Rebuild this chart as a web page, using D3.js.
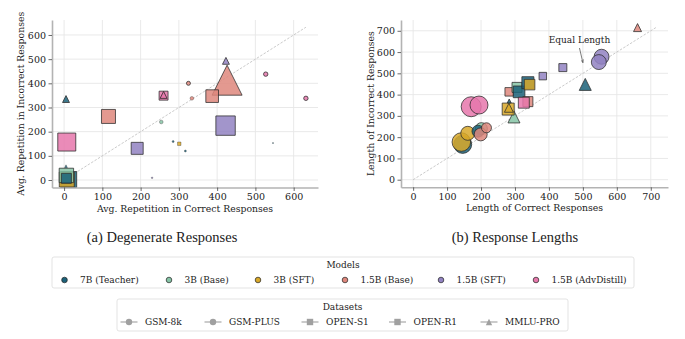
<!DOCTYPE html>
<html>
<head>
<meta charset="utf-8">
<script src="https://cdn.jsdelivr.net/npm/d3@7"></script>
<style>
  body { margin: 0; background: #fff; }
  svg { display: block; }
  .tick text { font-family: 'DejaVu Serif', serif; font-size: 9.5px; fill: #222; }
  .axis-title { font-family: 'DejaVu Serif', serif; font-size: 9.3px; fill: #222; }
  .caption { font-family: 'Liberation Serif', 'Times New Roman', serif; font-size: 14.5px; fill: #222; }
  .legend-text { font-family: 'DejaVu Serif', serif; font-size: 9px; fill: #222; }
</style>
</head>
<body>
<script>
// models and datasets
const modelNames = ['7B (Teacher)', '3B (Base)', '3B (SFT)', '1.5B (Base)', '1.5B (SFT)', '1.5B (AdvDistill)']
const modelColors = ['#1b6179', '#86c4a6', '#d8a829', '#de877c', '#9283c2', '#e677ab']
const datasetNames = ['GSM-8k', 'GSM-PLUS', 'OPEN-S1', 'OPEN-R1', 'MMLU-PRO']
const datasetShapes = ['circle', 'circle', 'square', 'square', 'triangle']

// (a) degenerate responses: avg. repetition
const repModel     = [0, 2, 1, 0, 3, 4, 5, 5, 3, 4, 4, 3, 5, 5, 0, 3, 3, 5, 5, 1, 0, 2, 0, 4, 0, 0]
const repDataset   = [2, 3, 2, 3, 4, 2, 2, 4, 3, 3, 4, 2, 3, 4, 4, 0, 1, 0, 1, 0, 1, 2, 0, 1, 4, 0]
const repCorrect   = [12, 7, 6, 6, 426, 422, 7, 260, 116, 191, 423, 387, 260, 260, 5, 325, 334, 527, 632, 254, 285, 301, 317, 230, 5, 546]
const repIncorrect = [2, 2, 19, 7, 413, 225, 157, 352, 263, 131, 493, 347, 349, 352, 335, 400, 338, 438, 338, 240, 159, 150, 120, 9, 57, 153]
const repWeight    = [64, 56, 52, 25, 225, 94, 81, 12, 49, 36, 12, 40, 20, 12, 12, 4, 3.3, 4.8, 4.8, 3.3, 1, 3, 1, 0.6, 2, 0.3]

// (b) response lengths
const lenModel     = [0, 2, 2, 1, 0, 3, 5, 5, 3, 1, 3, 1, 0, 2, 0, 2, 3, 5, 2, 0, 4, 4, 4, 4, 0, 3]
const lenDataset   = [0, 0, 1, 1, 0, 0, 0, 1, 1, 4, 3, 3, 2, 2, 3, 3, 2, 3, 4, 4, 0, 1, 2, 3, 4, 4]
const lenCorrect   = [146, 142, 161, 201, 191, 199, 171, 194, 216, 297, 283, 306, 312, 280, 338, 343, 338, 326, 282, 283, 555, 547, 441, 382, 507, 661]
const lenIncorrect = [166, 177, 218, 240, 228, 213, 343, 351, 244, 295, 413, 434, 413, 332, 456, 447, 367, 362, 338, 370, 578, 553, 527, 487, 448, 715]
const lenWeight    = [81, 86, 49, 36, 36, 42, 100, 81, 25, 36, 18, 25, 34, 36, 36, 28, 25, 30, 20, 4, 56, 56, 16, 14, 36, 16]

const xTicksA = [0, 100, 200, 300, 400, 500, 600]
const yTicksA = [0, 100, 200, 300, 400, 500, 600]
const ticksB = [0, 100, 200, 300, 400, 500, 600, 700]

const svg = d3.select('body').append('svg')
  .attr('width', 685)
  .attr('height', 339)

const sizeScale = d3.scaleSqrt().domain([0, 400]).range([0, 20])

function shapePath(shape, h) {
  if (shape === 'square') return `M${-h},${-h}H${h}V${h}H${-h}Z`
  if (shape === 'triangle') return `M0,${-h}L${h},${h}L${-h},${h}Z`
  return `M${h},0A${h},${h} 0 1,1 ${-h},0A${h},${h} 0 1,1 ${h},0Z`
}

function drawPanel(cfg) {
  const x = d3.scaleLinear().domain(cfg.xDomain).range([cfg.left, cfg.right])
  const y = d3.scaleLinear().domain(cfg.yDomain).range([cfg.bottom, cfg.top])
  const g = svg.append('g')

  // grid
  g.selectAll('.gx').data(cfg.xTicks).enter().append('line')
    .attr('x1', d => x(d)).attr('x2', d => x(d))
    .attr('y1', cfg.top).attr('y2', cfg.bottom)
    .attr('stroke', '#e6e6e6').attr('stroke-width', 0.9)
  g.selectAll('.gy').data(cfg.yTicks).enter().append('line')
    .attr('x1', cfg.left).attr('x2', cfg.right)
    .attr('y1', d => y(d)).attr('y2', d => y(d))
    .attr('stroke', '#e6e6e6').attr('stroke-width', 0.9)

  // equal line
  g.append('line')
    .attr('x1', x(0)).attr('y1', y(0))
    .attr('x2', x(cfg.diagMax)).attr('y2', y(cfg.diagMax))
    .attr('stroke', '#bdbdbd').attr('stroke-width', 0.8)
    .attr('stroke-dasharray', '2.5,1.5')

  // points
  const pts = cfg.xs.map((v, i) => ({
    x: v, y: cfg.ys[i], m: cfg.models[i], d: cfg.datasets[i], w: cfg.weights[i]
  }))
  g.selectAll('.pt').data(pts).enter().append('path')
    .attr('transform', d => 'translate(' + x(d.x) + ',' + y(d.y) + ')')
    .attr('d', d => shapePath(datasetShapes[d.d], sizeScale(d.w)))
    .attr('fill', d => modelColors[d.m])
    .attr('fill-opacity', 0.85)
    .attr('stroke', '#2b2b2b')
    .attr('stroke-width', d => sizeScale(d.w) < 2 ? 0.4 : 0.9)
    .attr('stroke-opacity', 0.85)

  // axes
  const xAxis = g.append('g')
    .attr('transform', 'translate(0,' + cfg.bottom + ')')
    .call(d3.axisBottom(x).tickValues(cfg.xTicks).tickSize(3.5).tickSizeOuter(0).tickPadding(2.5))
  const yAxis = g.append('g')
    .attr('transform', 'translate(' + cfg.left + ',0)')
    .call(d3.axisLeft(y).tickValues(cfg.yTicks).tickSize(3.5).tickSizeOuter(0).tickPadding(2.5))
  ;[xAxis, yAxis].forEach(a => {
    a.select('.domain').attr('stroke', '#b3b3b3').attr('stroke-width', 1.6)
    a.selectAll('.tick line').attr('stroke', '#444').attr('stroke-width', 0.8)
  })

  g.append('text').attr('class', 'axis-title')
    .attr('x', (cfg.left + cfg.right) / 2).attr('y', cfg.bottom + 24)
    .attr('text-anchor', 'middle')
    .text(cfg.xLabel)
  g.append('text').attr('class', 'axis-title')
    .attr('transform', 'translate(' + cfg.yLabelX + ',' + (cfg.top + cfg.bottom) / 2 + ') rotate(-90)')
    .attr('text-anchor', 'middle')
    .attr('dominant-baseline', 'middle')
    .text(cfg.yLabel)
  g.append('text').attr('class', 'caption')
    .attr('x', cfg.captionX).attr('y', 242)
    .attr('text-anchor', 'middle')
    .text(cfg.caption)
  return { x, y, g }
}

drawPanel({
  left: 52, right: 318, top: 20, bottom: 187.5,
  xDomain: [-31.6, 663.6], yDomain: [-31, 662],
  xTicks: xTicksA, yTicks: yTicksA, diagMax: 632,
  xs: repCorrect, ys: repIncorrect, models: repModel, datasets: repDataset, weights: repWeight,
  xLabel: 'Avg. Repetition in Correct Responses',
  yLabel: 'Avg. Repetition in Incorrect Responses', yLabelX: 21,
  caption: '(a) Degenerate Responses', captionX: 162
})

const panelB = drawPanel({
  left: 401, right: 668, top: 20, bottom: 187.3,
  xDomain: [-35.75, 750.75], yDomain: [-35.75, 750.75],
  xTicks: ticksB, yTicks: ticksB, diagMax: 715,
  xs: lenCorrect, ys: lenIncorrect, models: lenModel, datasets: lenDataset, weights: lenWeight,
  xLabel: 'Length of Correct Responses',
  yLabel: 'Length of Incorrect Responses', yLabelX: 371,
  caption: '(b) Response Lengths', captionX: 515
})

// annotation
svg.append('defs').append('marker')
  .attr('id', 'arrow').attr('viewBox', '0 0 10 10')
  .attr('refX', 9).attr('refY', 5)
  .attr('markerWidth', 5).attr('markerHeight', 5)
  .attr('orient', 'auto')
  .append('path').attr('d', 'M0,1L9,5L0,9').attr('fill', 'none')
  .attr('stroke', '#444').attr('stroke-width', 1.4)
svg.append('text').attr('class', 'legend-text')
  .attr('x', panelB.x(490)).attr('y', 43)
  .attr('text-anchor', 'middle')
  .text('Equal Length')
svg.append('line')
  .attr('x1', panelB.x(490)).attr('y1', 48)
  .attr('x2', panelB.x(500)).attr('y2', panelB.y(550))
  .attr('stroke', '#444').attr('stroke-width', 0.7)
  .attr('marker-end', 'url(#arrow)')

// legends
function legendBox(x0, x1, y0, y1, title) {
  svg.append('rect')
    .attr('x', x0).attr('y', y0).attr('width', x1 - x0).attr('height', y1 - y0)
    .attr('rx', 2).attr('fill', '#fff').attr('stroke', '#dcdcdc').attr('stroke-width', 0.8)
  svg.append('text').attr('class', 'legend-text')
    .attr('x', (x0 + x1) / 2).attr('y', y0 + 11)
    .attr('text-anchor', 'middle')
    .text(title)
}

legendBox(52, 634, 257, 288, 'Models')
const modelX = [64.5, 169, 258, 345, 441, 536]
const modelItems = svg.selectAll('.model-item').data(modelNames).enter().append('g')
  .attr('transform', (d, i) => 'translate(' + modelX[i] + ',280)')
modelItems.append('circle').attr('r', 2.8)
  .attr('fill', (d, i) => modelColors[i]).attr('stroke', '#222').attr('stroke-width', 0.7)
modelItems.append('text').attr('class', 'legend-text')
  .attr('x', 15.5).attr('y', 3.2).text(d => d)

legendBox(117, 568, 299, 331, 'Datasets')
const datasetX = [129, 213, 310, 397.5, 489]
const dataItems = svg.selectAll('.data-item').data(datasetNames).enter().append('g')
  .attr('transform', (d, i) => 'translate(' + datasetX[i] + ',322)')
dataItems.append('line').attr('x1', -8.5).attr('x2', 8.5)
  .attr('stroke', '#a8a8a8').attr('stroke-width', 1.2)
dataItems.append('path')
  .attr('d', (d, i) => shapePath(datasetShapes[i], 3.2))
  .attr('fill', '#a0a0a0')
dataItems.append('text').attr('class', 'legend-text')
  .attr('x', 16).attr('y', 3.2).text(d => d)
</script>
</body>
</html>
